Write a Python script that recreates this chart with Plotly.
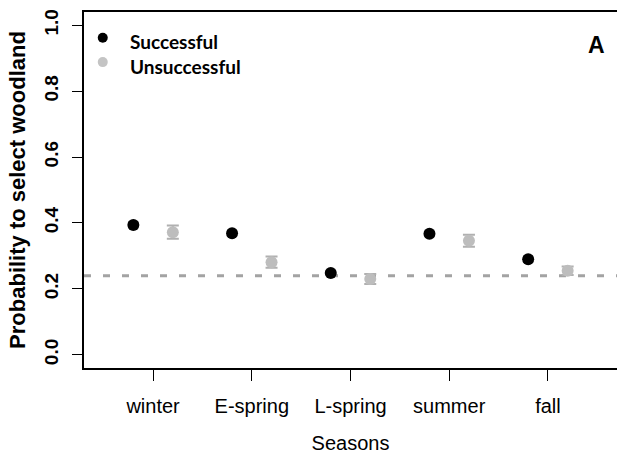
import plotly.graph_objects as go

seasons = ["winter", "E-spring", "L-spring", "summer", "fall"]
season_pos = [1, 2, 3, 4, 5]
succ_mean = [0.394, 0.369, 0.248, 0.367, 0.290]
succ_err = [0.008, 0.007, 0.007, 0.007, 0.008]
unsucc_mean = [0.372, 0.281, 0.230, 0.346, 0.255]
unsucc_err = [0.020, 0.017, 0.015, 0.018, 0.013]
baseline = 0.24
offset = 0.2
y_ticks = [0.0, 0.2, 0.4, 0.6, 0.8, 1.0]
y_tick_labels = ["0.0", "0.2", "0.4", "0.6", "0.8", "1.0"]
legend_labels = ["Successful", "Unsuccessful"]

SANS = "Liberation Sans"

fig = go.Figure()

fig.add_hline(y=baseline, line=dict(color="#a3a3a3", width=3, dash="7px,12px"), layer="below")

fig.add_trace(go.Scatter(
    x=[p + offset for p in season_pos], y=unsucc_mean, mode="markers", name="Unsuccessful",
    marker=dict(color="#bdbdbd", size=12),
    error_y=dict(type="data", array=unsucc_err, color="#b0b0b0", thickness=2, width=6),
    showlegend=False,
))
fig.add_trace(go.Scatter(
    x=[p - offset for p in season_pos], y=succ_mean, mode="markers", name="Successful",
    marker=dict(color="#000000", size=12),
    error_y=dict(type="data", array=succ_err, color="#444444", thickness=2, width=5),
    showlegend=False,
))

# legend drawn as markers + text
legend_font = dict(family="Lato", size=19, color="black")
fig.add_trace(go.Scatter(
    x=[0.49], y=[0.962], mode="markers", marker=dict(color="#000000", size=10),
    showlegend=False, hoverinfo="skip"))
fig.add_trace(go.Scatter(
    x=[0.49], y=[0.888], mode="markers", marker=dict(color="#c4c4c4", size=10),
    showlegend=False, hoverinfo="skip"))
fig.add_annotation(x=0.75, y=0.95, xref="x", yref="y", text="<b>" + legend_labels[0] + "</b>",
                   showarrow=False, xanchor="left", yanchor="middle", font=legend_font)
fig.add_annotation(x=0.75, y=0.876, xref="x", yref="y", text="<b>" + legend_labels[1] + "</b>",
                   showarrow=False, xanchor="left", yanchor="middle", font=legend_font)
fig.add_annotation(x=5.49, y=0.94, xref="x", yref="y", text="<b>A</b>",
                   showarrow=False, xanchor="center", yanchor="middle",
                   font=dict(family=SANS, size=23, color="black"))

fig.update_layout(
    width=619, height=459,
    margin=dict(l=84, r=2, t=12, b=91),
    plot_bgcolor="white", paper_bgcolor="white",
    font=dict(family=SANS, color="black"),
    showlegend=False,
)
fig.update_xaxes(
    range=[0.3, 5.7], tickvals=season_pos, ticktext=seasons,
    showgrid=False, zeroline=False, automargin=False,
    showline=True, linecolor="black", linewidth=2, mirror=True,
    ticks="outside", ticklen=11, tickcolor="black", tickwidth=1,
    tickfont=dict(family=SANS, size=20, color="black"),
    ticklabelstandoff=8,
    title=dict(text="Seasons", font=dict(family=SANS, size=20), standoff=20),
)
fig.update_yaxes(
    range=[-0.04, 1.04], tickvals=y_ticks, ticktext=["<b>" + t + "</b>" for t in y_tick_labels],
    tickangle=-90,
    showgrid=False, zeroline=False, automargin=False,
    showline=True, linecolor="black", linewidth=2, mirror=False,
    ticks="outside", ticklen=10, tickcolor="black", tickwidth=1,
    tickfont=dict(family=SANS, size=19, color="black"),
    ticklabelstandoff=6,
    title=dict(text="<b>Probability to select woodland</b>", font=dict(family=SANS, size=22), standoff=10),
)

fig.write_html(
    "out.html",
    config={"displayModeBar": False},
    post_script="document.body.style.margin='0';document.body.style.overflow='hidden';",
)
